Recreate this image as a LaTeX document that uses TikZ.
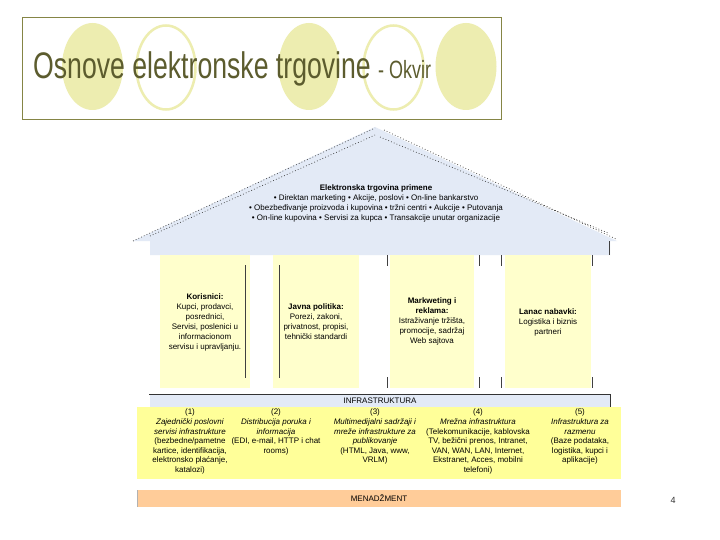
\documentclass[tikz,border=0pt]{standalone}
\usepackage{fontspec}
\setmainfont{Liberation Sans}
\newfontfamily\titlefont[FakeStretch=0.72]{Liberation Sans}
\newcommand\myskiplim{\lineskiplimit=-20pt\relax}
\definecolor{roofblue}{HTML}{E3EAF6}
\definecolor{pillaryellow}{HTML}{FFFFCC}
\definecolor{bandyellow}{HTML}{FFFF99}
\definecolor{mgmtorange}{HTML}{FFCC99}
\definecolor{titlecol}{HTML}{5C5C2E}
\definecolor{framecol}{HTML}{858545}
\definecolor{circlecol}{HTML}{EDEDB0}
\tikzset{
  smalltxt/.style={font=\fontsize{8}{10}\selectfont\myskiplim, align=center, inner sep=0pt},
  bandtxt/.style={font=\fontsize{8}{9.6}\selectfont\myskiplim, align=center, inner sep=0pt, anchor=north},
  pillarbox/.style={fill=pillaryellow, draw=none},
  roofdots/.style={draw=black!75, line width=0.7pt, dash pattern=on 0.8pt off 2.2pt},
  tickline/.style={draw=black!75, line width=0.8pt},
  fullcirc/.style={fill=circlecol, draw=none},
  ringcirc/.style={draw=circlecol, line width=2.5pt},
}
\begin{document}
\begin{tikzpicture}[x=1pt,y=-1pt]
\useasboundingbox (0,0) rectangle (720,540);
\fill[white] (0,0) rectangle (720,540);
% title circles
\fill[fullcirc] (92.5,66.5) ellipse [x radius=30.5, y radius=43.5];
\draw[ringcirc] (166,67.5) ellipse [x radius=29.5, y radius=42];
\fill[fullcirc] (309,66.5) ellipse [x radius=30.5, y radius=43.5];
\draw[ringcirc] (393.5,67.5) ellipse [x radius=30, y radius=42];
\fill[fullcirc] (466,66.5) ellipse [x radius=30.5, y radius=43.5];
% title frame
\draw[framecol, line width=1pt] (22,18) rectangle (501,120);
\node[anchor=base west, inner sep=0pt, text=titlecol] (title) at (33,79)
  {\titlefont\fontsize{37}{40}\selectfont Osnove elektronske trgovine\ \fontsize{25}{27}\selectfont - Okvir};
% roof
\fill[roofblue] (133,241) -- (375,127) -- (617,241) -- (610,241) -- (610,255) -- (150,255) -- (150,241) -- cycle;
\draw[roofdots] (133,241) -- (375,128);
\draw[roofdots] (150,236) -- (375,135);
\draw[roofdots] (384,130) -- (616,239);
\draw[roofdots] (380,137) -- (608,233);
\draw[tickline] (609.5,241) -- (609.5,255);
\node[smalltxt] (roof) at (376,203) {\textbf{Elektronska trgovina primene}\\
• Direktan marketing • Akcije, poslovi • On-line bankarstvo\\
• Obezbeđivanje proizvoda i kupovina • tržni centri • Aukcije • Putovanja\\
• On-line kupovina • Servisi za kupca • Transakcije unutar organizacije};
% pillars
\fill[pillarbox] (160,255) rectangle (250,388);
\fill[pillarbox] (273,255) rectangle (359,388);
\fill[pillarbox] (390,255) rectangle (474,388);
\fill[pillarbox] (505,255) rectangle (591,388);
\draw[tickline] (245.5,265) -- (245.5,378);
\draw[tickline] (279.5,265) -- (279.5,378);
\foreach \tx in {387,479,501.5,592}{
  \draw[tickline] (\tx,255) -- (\tx,266);
  \draw[tickline] (\tx,377) -- (\tx,388);
}
\node[smalltxt] (p1) at (205,322) {\textbf{Korisnici:}\\Kupci, prodavci,\\posrednici,\\Servisi, poslenici u\\informacionom\\servisu i upravljanju.};
\node[smalltxt] (p2) at (316,322) {\textbf{Javna politika:}\\Porezi, zakoni,\\privatnost, propisi,\\tehnički standardi};
\node[smalltxt] (p3) at (432,321.5) {\textbf{Markweting i}\\\textbf{reklama:}\\Istraživanje tržišta,\\promocije, sadržaj\\Web sajtova};
\node[smalltxt] (p4) at (548,322) {\textbf{Lanac nabavki:}\\Logistika i biznis\\partneri};
% infrastructure base
\fill[roofblue] (150,394) rectangle (610,407);
\draw[black!80, line width=0.8pt] (149,394) -- (610,394) -- (610,407);
\node[smalltxt] (infra) at (380,400.5) {INFRASTRUKTURA};
% yellow band
\fill[bandyellow] (137,407) rectangle (621,479);
\node[bandtxt] (c1) at (190,409) {(1)\\\textit{Zajednički poslovni}\\\textit{servisi infrastrukture}\\(bezbedne/pametne\\kartice, identifikacija,\\elektronsko plaćanje,\\katalozi)};
\node[bandtxt] (c2) at (276,409) {(2)\\\textit{Distribucija poruka i}\\\textit{informacija}\\(EDI, e-mail, HTTP i chat\\rooms)};
\node[bandtxt] (c3) at (375,409) {(3)\\\textit{Multimedijalni sadržaji i}\\\textit{mreže infrastrukture za}\\\textit{publikovanje}\\(HTML, Java, www,\\VRLM)};
\node[bandtxt] (c4) at (478,409) {(4)\\\textit{Mrežna infrastruktura}\\(Telekomunikacije, kablovska\\TV, bežični prenos, Intranet,\\VAN, WAN, LAN, Internet,\\Ekstranet, Acces, mobilni\\telefoni)};
\node[bandtxt] (c5) at (580,409) {(5)\\\textit{Infrastruktura za}\\\textit{razmenu}\\(Baze podataka,\\logistika, kupci i\\aplikacije)};
% management
\fill[mgmtorange] (137,490) rectangle (621,507);
\draw[black!30, line width=0.5pt] (137,490) -- (137,507);
\node[smalltxt] (mgmt) at (379,498.5) {MENADŽMENT};
% page number
\node[inner sep=0pt, font=\fontsize{9}{10}\selectfont, text=black!80] (pnum) at (673,500) {4};
\end{tikzpicture}
\end{document}
